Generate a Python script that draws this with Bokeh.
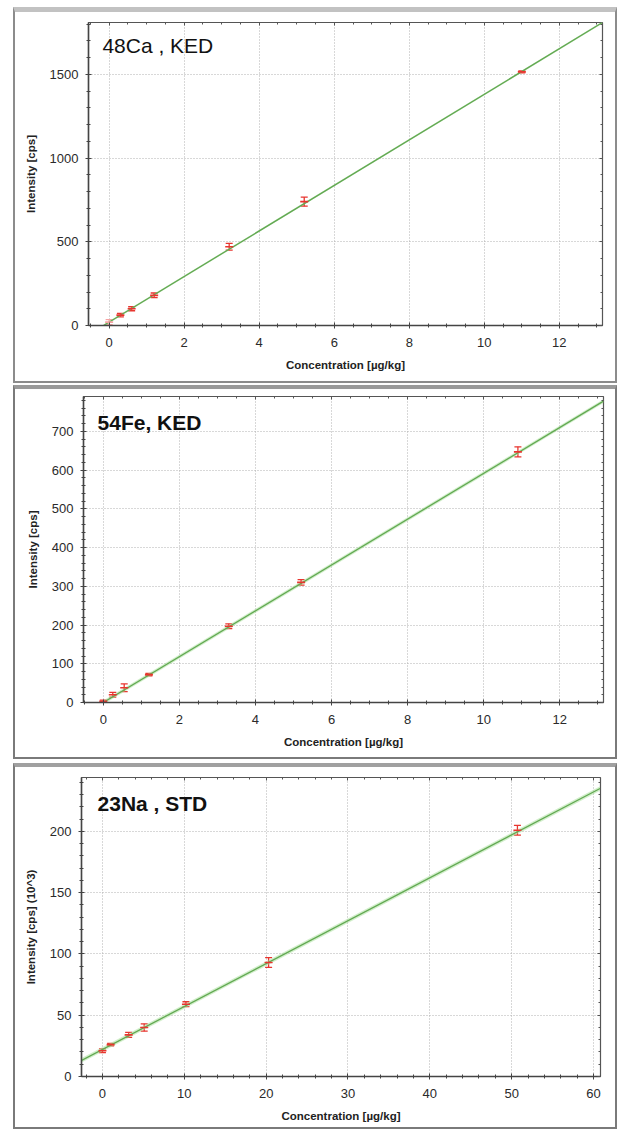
from bokeh.plotting import figure
from bokeh.models import (ColumnDataSource, Whisker, TeeHead, LinearAxis, Label,
                          Range1d, SingleIntervalTicker, CustomJSTickFormatter)
from bokeh.embed import file_html
from bokeh.resources import INLINE

# ---- data: 48Ca, KED ----
ca_conc = [0.0, 0.3, 0.6, 1.2, 3.2, 5.2, 11.0]
ca_int = [20, 62, 100, 180, 470, 740, 1515]
ca_err = [15, 10, 12, 14, 20, 27, 6]
ca_fit_x = [-0.15, 13.15]
ca_fit_y = [0, 1810]
ca_band = 6

# ---- data: 54Fe, KED ----
fe_conc = [0.0, 0.25, 0.55, 1.2, 3.3, 5.2, 10.9]
fe_int = [3, 20, 38, 72, 197, 310, 647]
fe_err = [3, 6, 10, 3, 6, 7, 13]
fe_fit_x = [0.0, 13.15]
fe_fit_y = [0, 778]
fe_band = 5

# ---- data: 23Na, STD ----
na_conc = [0.0, 1.0, 3.2, 5.1, 10.2, 20.3, 50.7]
na_int = [21, 26, 34, 40, 59, 93, 201]
na_err = [1.5, 1.0, 2.0, 3.0, 2.0, 4.0, 4.0]
na_fit_x = [-2.6, 60.8]
na_fit_y = [13, 235]
na_band = 1.8

RED = "#e8352f"
GREEN = "#62a852"
FONT = "Liberation Sans"


def panel(title, bold, xs, ys, errs, fx, fy, band, xr, yr, xstep, xminor,
          ystep, yminor, ylabel, w, h, mb, tpos, first_pale, style, margin):
    p = figure(width=w, height=h, output_backend="svg", toolbar_location=None,
               x_range=Range1d(*xr), y_range=Range1d(*yr),
               min_border_left=mb[0], min_border_right=mb[1],
               min_border_top=mb[2], min_border_bottom=mb[3],
               styles=style, margin=margin)
    p.outline_line_color = "#555555"
    p.outline_line_width = 1.2
    p.background_fill_color = "white"
    p.border_fill_color = "white"

    xt = SingleIntervalTicker(interval=xstep, num_minor_ticks=xminor)
    yt = SingleIntervalTicker(interval=ystep, num_minor_ticks=yminor)
    p.xaxis.ticker = xt
    p.yaxis.ticker = yt
    for ax in (p.xaxis[0], p.yaxis[0]):
        ax.axis_line_color = "#444444"
        ax.axis_line_width = 1.5
        ax.major_tick_line_color = "#444444"
        ax.minor_tick_line_color = "#444444"
        ax.major_tick_in = 3
        ax.major_tick_out = 3
        ax.minor_tick_in = 2
        ax.minor_tick_out = 2
        ax.major_label_text_font = FONT
        ax.major_label_text_font_size = "13px"
        ax.major_label_text_color = "#2a2a2a"
        ax.axis_label_text_font = FONT
        ax.axis_label_text_font_size = "11.5px"
        ax.axis_label_text_font_style = "bold"
        ax.axis_label_text_color = "#222222"
    p.xaxis.axis_label = "Concentration [µg/kg]"
    p.yaxis.axis_label = ylabel
    p.xaxis.major_label_standoff = 9
    p.xaxis.axis_label_standoff = 9
    p.yaxis.major_label_standoff = 7
    p.yaxis.axis_label_standoff = 10

    for loc, tk in (("right", yt), ("above", xt)):
        ax = LinearAxis(ticker=tk, formatter=CustomJSTickFormatter(code="return ''"))
        ax.axis_line_color = None
        ax.major_tick_line_color = "#555555"
        ax.minor_tick_line_color = "#555555"
        ax.major_tick_in = 3
        ax.major_tick_out = 0
        ax.minor_tick_in = 2
        ax.minor_tick_out = 0
        ax.major_label_standoff = 0
        ax.major_label_text_font_size = "1px"
        p.add_layout(ax, loc)

    for g in (p.xgrid[0], p.ygrid[0]):
        g.grid_line_color = "#b0b0b0"
        g.grid_line_dash = "1 2"
        g.grid_line_width = 1

    # fit with confidence band
    p.varea(x=fx, y1=[v - band for v in fy], y2=[v + band for v in fy],
            fill_color="#a6e097", fill_alpha=0.5)
    p.line(fx, fy, line_color=GREEN, line_width=1.3)

    colors = [RED] * len(xs)
    if first_pale:
        colors[0] = "#f5a3a3"
    src = ColumnDataSource(dict(x=xs, y=ys, lo=[a - b for a, b in zip(ys, errs)],
                                hi=[a + b for a, b in zip(ys, errs)], c=colors))
    wh = Whisker(base="x", upper="hi", lower="lo", source=src,
                 line_color="c", line_width=1.3,
                 upper_head=TeeHead(size=7, line_color="c", line_width=1.3),
                 lower_head=TeeHead(size=7, line_color="c", line_width=1.3))
    p.add_layout(wh)
    p.scatter("x", "y", source=src, marker="dash", size=8, line_color="c",
              line_width=1.6)

    p.add_layout(Label(x=tpos[0], y=tpos[1], text=title, text_font=FONT,
                       text_font_size="21px", text_font_style=bold,
                       text_color="#111111", text_baseline="middle"))
    return p


frame1 = {"border": "2px solid #8c8c8c", "border-top": "5px solid #c2c2c2"}
frame2 = {"border": "2px solid #7a7a7a", "border-top": "4px solid #9a9a9a"}
frame3 = {"border": "2px solid #7a7a7a", "border-top": "4px solid #a0a0a0"}

p1 = panel("48Ca , KED", "normal", ca_conc, ca_int, ca_err, ca_fit_x, ca_fit_y,
           ca_band, (-0.55, 13.15), (0, 1810), 2, 4, 500, 5, "Intensity [cps]",
           604, 376, (73, 17, 10, 63), (-0.18, 1675), True, frame1,
           (7, 0, 0, 13))
p2 = panel("54Fe, KED", "bold", fe_conc, fe_int, fe_err, fe_fit_x, fe_fit_y,
           fe_band, (-0.52, 13.15), (0, 790), 2, 4, 100, 5, "Intensity [cps]",
           604, 374, (68, 16, 7, 61), (-0.15, 723), False, frame2,
           (2, 0, 0, 13))
p3 = panel("23Na , STD", "bold", na_conc, na_int, na_err, na_fit_x, na_fit_y,
           na_band, (-2.56, 60.85), (0, 244), 10, 5, 50, 5,
           "Intensity [cps] (10^3)",
           604, 366, (66, 19, 10, 57), (-0.6, 223), False, frame3,
           (4, 0, 0, 13))

open("out.html", "w").write(file_html([p1, p2, p3], INLINE))
